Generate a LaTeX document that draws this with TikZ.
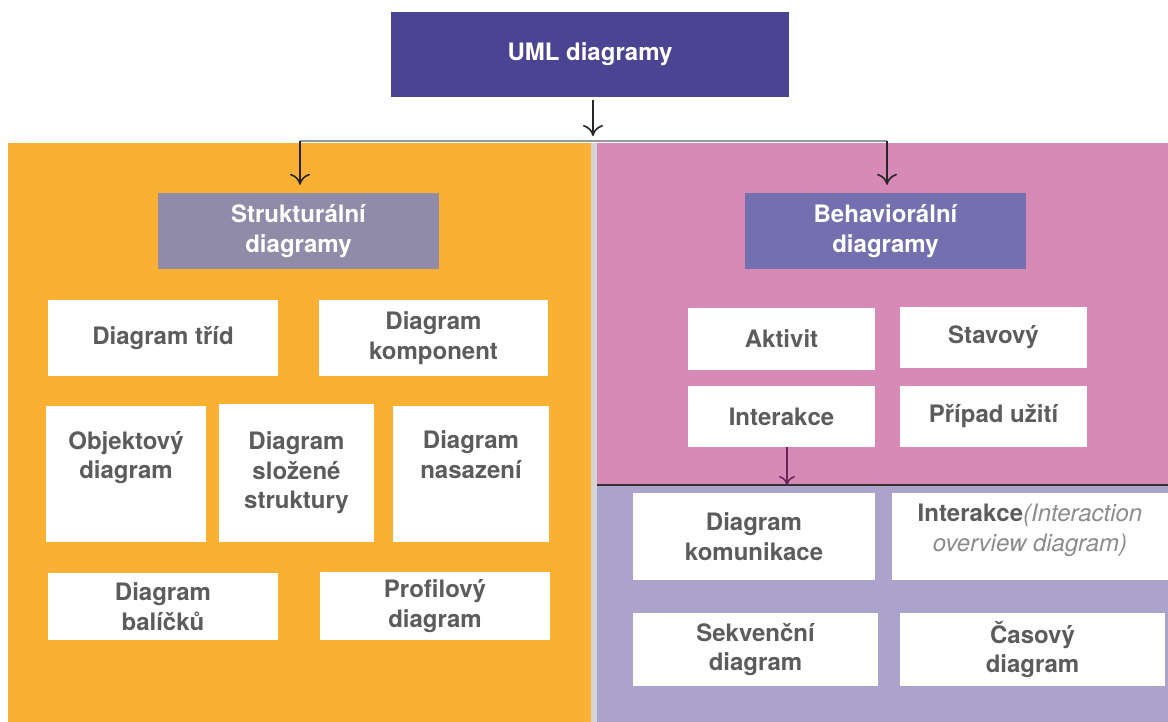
\documentclass[tikz,border=0pt]{standalone}
\usepackage{fontspec}
\setmainfont{TeX Gyre Heros}
\usetikzlibrary{arrows.meta}
\definecolor{orng}{HTML}{F9B033}
\definecolor{pnk}{HTML}{D88AB7}
\definecolor{lav}{HTML}{ABA3CC}
\definecolor{topc}{HTML}{4A4492}
\definecolor{strc}{HTML}{8F8BA8}
\definecolor{behc}{HTML}{7470B0}
\definecolor{txtc}{HTML}{5C5C5C}
\definecolor{itc}{HTML}{8C8C8C}
\definecolor{sepc}{HTML}{D4D4D4}
\definecolor{arrp}{HTML}{6B2257}
\tikzset{
  wbox/.style={fill=white, inner sep=2pt, align=center, text=txtc,
    font=\fontsize{24}{29.5}\selectfont\bfseries},
  hbox/.style={inner sep=2pt, align=center, text=white,
    font=\fontsize{24}{29.5}\selectfont\bfseries},
  arr/.style={-{To[length=11pt,width=20pt]}, line width=1.6pt, black!85},
  conn/.style={line width=1.4pt, draw=gray!80},
  toplabel/.style={anchor=north, align=center, text=txtc, inner sep=0pt, yshift=-25pt,
    font=\fontsize{24}{29.5}\selectfont\bfseries},
  midlabel/.style={anchor=center, align=center, text=txtc, inner sep=0pt, yshift=6pt,
    font=\fontsize{24}{29.5}\selectfont}
}
\begin{document}
\begin{tikzpicture}[x=1pt,y=-1pt]
\useasboundingbox (0,0) rectangle (1168,722);
\fill[white] (0,0) rectangle (1168,722);
% panels
\fill[orng] (8,143) rectangle (591,722);
\fill[sepc] (591,143) rectangle (597,722);
\fill[pnk] (597,143) rectangle (1168,485);
\fill[lav] (597,485) rectangle (1168,722);
\draw[line width=2pt, black!80] (597,485) -- (1168,485);

% headings
\node[hbox, fill=topc, minimum width=398, minimum height=85] (uml) at (590,54.5) {UML diagramy};
\node[hbox, fill=strc, minimum width=281, minimum height=76] (str) at (298.5,231) {Strukturální\\diagramy};
\node[hbox, fill=behc, minimum width=281, minimum height=76] (beh) at (885.5,231) {Behaviorální\\diagramy};

% connectors
\coordinate (jm) at (593,141);
\coordinate (jl) at (300,141);
\coordinate (jr) at (887,141);
\draw[conn] (jl) -- (jr);
\draw[arr, shorten >=5pt] (uml.south -| jm) ++(0,3) -- (jm);
\draw[arr, shorten >=8pt] (jl) -- (jl |- str.north);
\draw[arr, shorten >=8pt] (jr) -- (jr |- beh.north);

% structural boxes
\node[wbox, minimum width=230, minimum height=76] (tridy) at (163,338) {Diagram tříd};
\node[wbox, minimum width=229, minimum height=76] (komp) at (433.5,338) {Diagram\\komponent};
\node[wbox, minimum width=160, minimum height=136,
  label={[toplabel]north:{Objektový\\diagram}}] (obj) at (126,474) {};
\node[wbox, minimum width=155, minimum height=138] (slo) at (296.5,473) {Diagram\\složené\\struktury};
\node[wbox, minimum width=156, minimum height=136,
  label={[toplabel]north:{Diagram\\nasazení}}] (nas) at (471,474) {};
\node[wbox, minimum width=230, minimum height=67] (bal) at (163,606.5) {Diagram\\balíčků};
\node[wbox, minimum width=230, minimum height=68] (prof) at (435,606) {Profilový\\diagram};

% behavioral boxes
\node[wbox, minimum width=187, minimum height=62] (akt) at (781.5,339) {Aktivit};
\node[wbox, minimum width=187, minimum height=61] (stav) at (993.5,337.5) {Stavový};
\node[wbox, minimum width=187, minimum height=61] (inter) at (781.5,416.5) {Interakce};
\node[wbox, minimum width=187, minimum height=61] (pripad) at (993.5,416.5) {Případ užití};
\coordinate (iline) at (787,485);
\draw[-{To[length=9pt,width=16pt]}, line width=1.5pt, arrp] (inter.south -| iline) -- (iline);

\node[wbox, minimum width=242, minimum height=87] (kom) at (754,536.5) {Diagram\\komunikace};
\node[wbox, minimum width=276, minimum height=87,
  label={[midlabel]center:{\textbf{Interakce}{\color{itc}\itshape(Interaction}\\{\color{itc}\itshape overview diagram)}}}] (over) at (1030,536.5) {};
\node[wbox, minimum width=245, minimum height=73] (sek) at (755.5,649.5) {Sekvenční\\diagram};
\node[wbox, minimum width=265, minimum height=73] (cas) at (1032.5,649.5) {Časový\\diagram};
\end{tikzpicture}
\end{document}
